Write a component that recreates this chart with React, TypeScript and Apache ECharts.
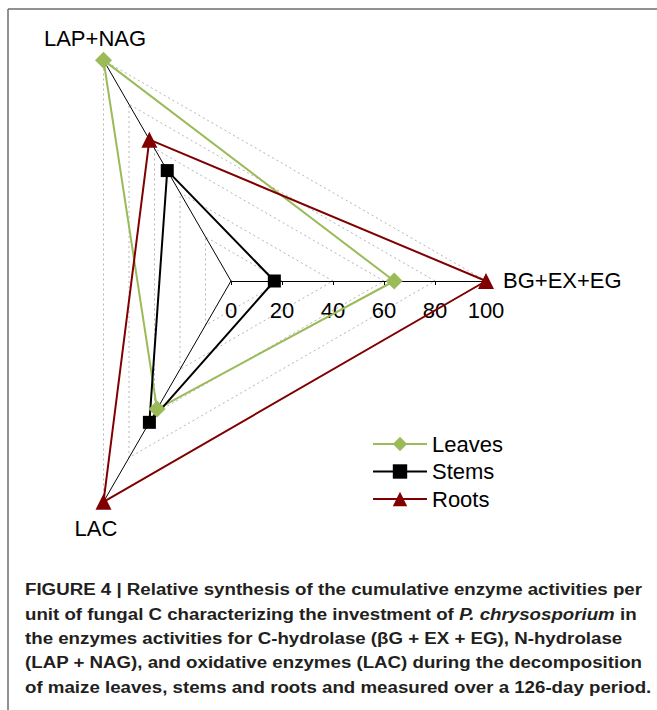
import React, { useEffect, useRef } from "react";
import * as echarts from "echarts";

// ---- data ----
const indicators = ["BG+EX+EG", "LAP+NAG", "LAC"];
const seriesNames = ["Leaves", "Stems", "Roots"];
const leavesValues = [64, 100, 58];
const stemsValues = [17, 50, 64];
const rootsValues = [100, 64, 100];
const tickValues = [0, 20, 40, 60, 80, 100];
const captionLines = [
  "FIGURE 4 | Relative synthesis of the cumulative enzyme activities per",
  "unit of fungal C characterizing the investment of {i|P. chrysosporium} in",
  "the enzymes activities for C-hydrolase (βG + EX + EG), N-hydrolase",
  "(LAP + NAG), and oxidative enzymes (LAC) during the decomposition",
  "of maize leaves, stems and roots and measured over a 126-day period.",
];

const colors = ["#9BBB59", "#000000", "#800000"];
const symbols = ["diamond", "rect", "triangle"];
const symbolSizes = [17, 13, 16];
const FONT = "'Liberation Sans', Arial, sans-serif";

export default function App() {
  const ref = useRef<HTMLDivElement>(null);
  useEffect(() => {
    if (!ref.current) return;
    const chart = echarts.init(ref.current, undefined, { renderer: "svg" });
    const values = [leavesValues, stemsValues, rootsValues];

    const cx = 231;
    const cy = 281;
    const R = 255;

    const option: any = {
      animation: false,
      backgroundColor: "#ffffff",
      textStyle: { fontFamily: FONT },
      radar: {
        center: [cx, cy],
        radius: R,
        startAngle: 0,
        shape: "polygon",
        splitNumber: 5,
        indicator: indicators.map((n) => ({ name: n, min: 0, max: 100 })),
        axisName: { show: false },
        axisLine: { show: true, lineStyle: { color: "#000", width: 1 } },
        splitLine: { show: true, lineStyle: { color: "#b5b5b5", type: [2, 3], width: 1 } },
        splitArea: { show: false },
        axisTick: { show: false },
        axisLabel: { show: false },
      },
      grid: { left: cx, top: 100, width: R, height: cy - 100 },
      xAxis: {
        type: "value",
        min: 0,
        max: 100,
        interval: 20,
        position: "bottom",
        axisLine: { show: true, lineStyle: { color: "#000", width: 1 } },
        axisTick: { show: true, length: 4, lineStyle: { color: "#000" } },
        splitLine: { show: false },
        axisLabel: {
          show: true,
          fontSize: 22,
          color: "#000",
          margin: 18,
          fontFamily: FONT,
          formatter: (v: number) => (tickValues.includes(v) ? String(v) : ""),
        },
      },
      yAxis: { type: "value", show: false, min: 0, max: 1 },
      legend: {
        orient: "vertical",
        left: 367,
        top: 428,
        itemWidth: 54,
        itemHeight: 18,
        itemGap: 5.5,
        data: seriesNames,
        textStyle: { fontSize: 22, color: "#000", fontFamily: FONT },
      },
      series: [
        ...seriesNames.map((name, i) => ({
          type: "line",
          name,
          data: [],
          symbol: symbols[i],
          symbolSize: symbolSizes[i],
          itemStyle: { color: colors[i] },
          lineStyle: { color: colors[i], width: 2 },
        })),
        {
          type: "radar",
          name: "radar",
          z: 3,
          data: seriesNames.map((name, i) => ({
            name: name + " ",
            value: values[i],
            symbol: symbols[i],
            symbolSize: symbolSizes[i],
            itemStyle: { color: colors[i] },
            lineStyle: { color: colors[i], width: 2 },
          })),
        },
      ],
      graphic: [
        {
          type: "line",
          shape: { x1: 8, y1: 9, x2: 657, y2: 9 },
          style: { stroke: "#6e6e6e", lineWidth: 1.5 },
        },
        {
          type: "line",
          shape: { x1: 8, y1: 9, x2: 8, y2: 710 },
          style: { stroke: "#6e6e6e", lineWidth: 1.5 },
        },
        {
          type: "text",
          x: 95,
          y: 38,
          style: { text: indicators[1], fontSize: 22, fontFamily: FONT, fill: "#000", textAlign: "center", textVerticalAlign: "middle" },
        },
        {
          type: "text",
          x: 503,
          y: 280,
          style: { text: indicators[0], fontSize: 22, fontFamily: FONT, fill: "#000", textAlign: "left", textVerticalAlign: "middle" },
        },
        {
          type: "text",
          x: 96,
          y: 528,
          style: { text: indicators[2], fontSize: 22, fontFamily: FONT, fill: "#000", textAlign: "center", textVerticalAlign: "middle" },
        },
        ...captionLines.map((line, i) => ({
          type: "text",
          x: 25,
          y: 589.5 + i * 24.4,
          scaleX: 1.1,
          style: {
            text: line,
            fontSize: 17,
            fontWeight: "bold",
            fontFamily: FONT,
            fill: "#231f20",
            textAlign: "left",
            textVerticalAlign: "middle",
            rich: {
              i: { fontSize: 17, fontWeight: "bold", fontStyle: "italic", fontFamily: FONT, fill: "#231f20" },
            },
          },
        })),
      ],
    };
    chart.setOption(option);
    return () => chart.dispose();
  }, []);
  return (
    <div
      ref={ref}
      style={{ position: "absolute", left: 0, top: 0, width: 657, height: 710 }}
    />
  );
}
